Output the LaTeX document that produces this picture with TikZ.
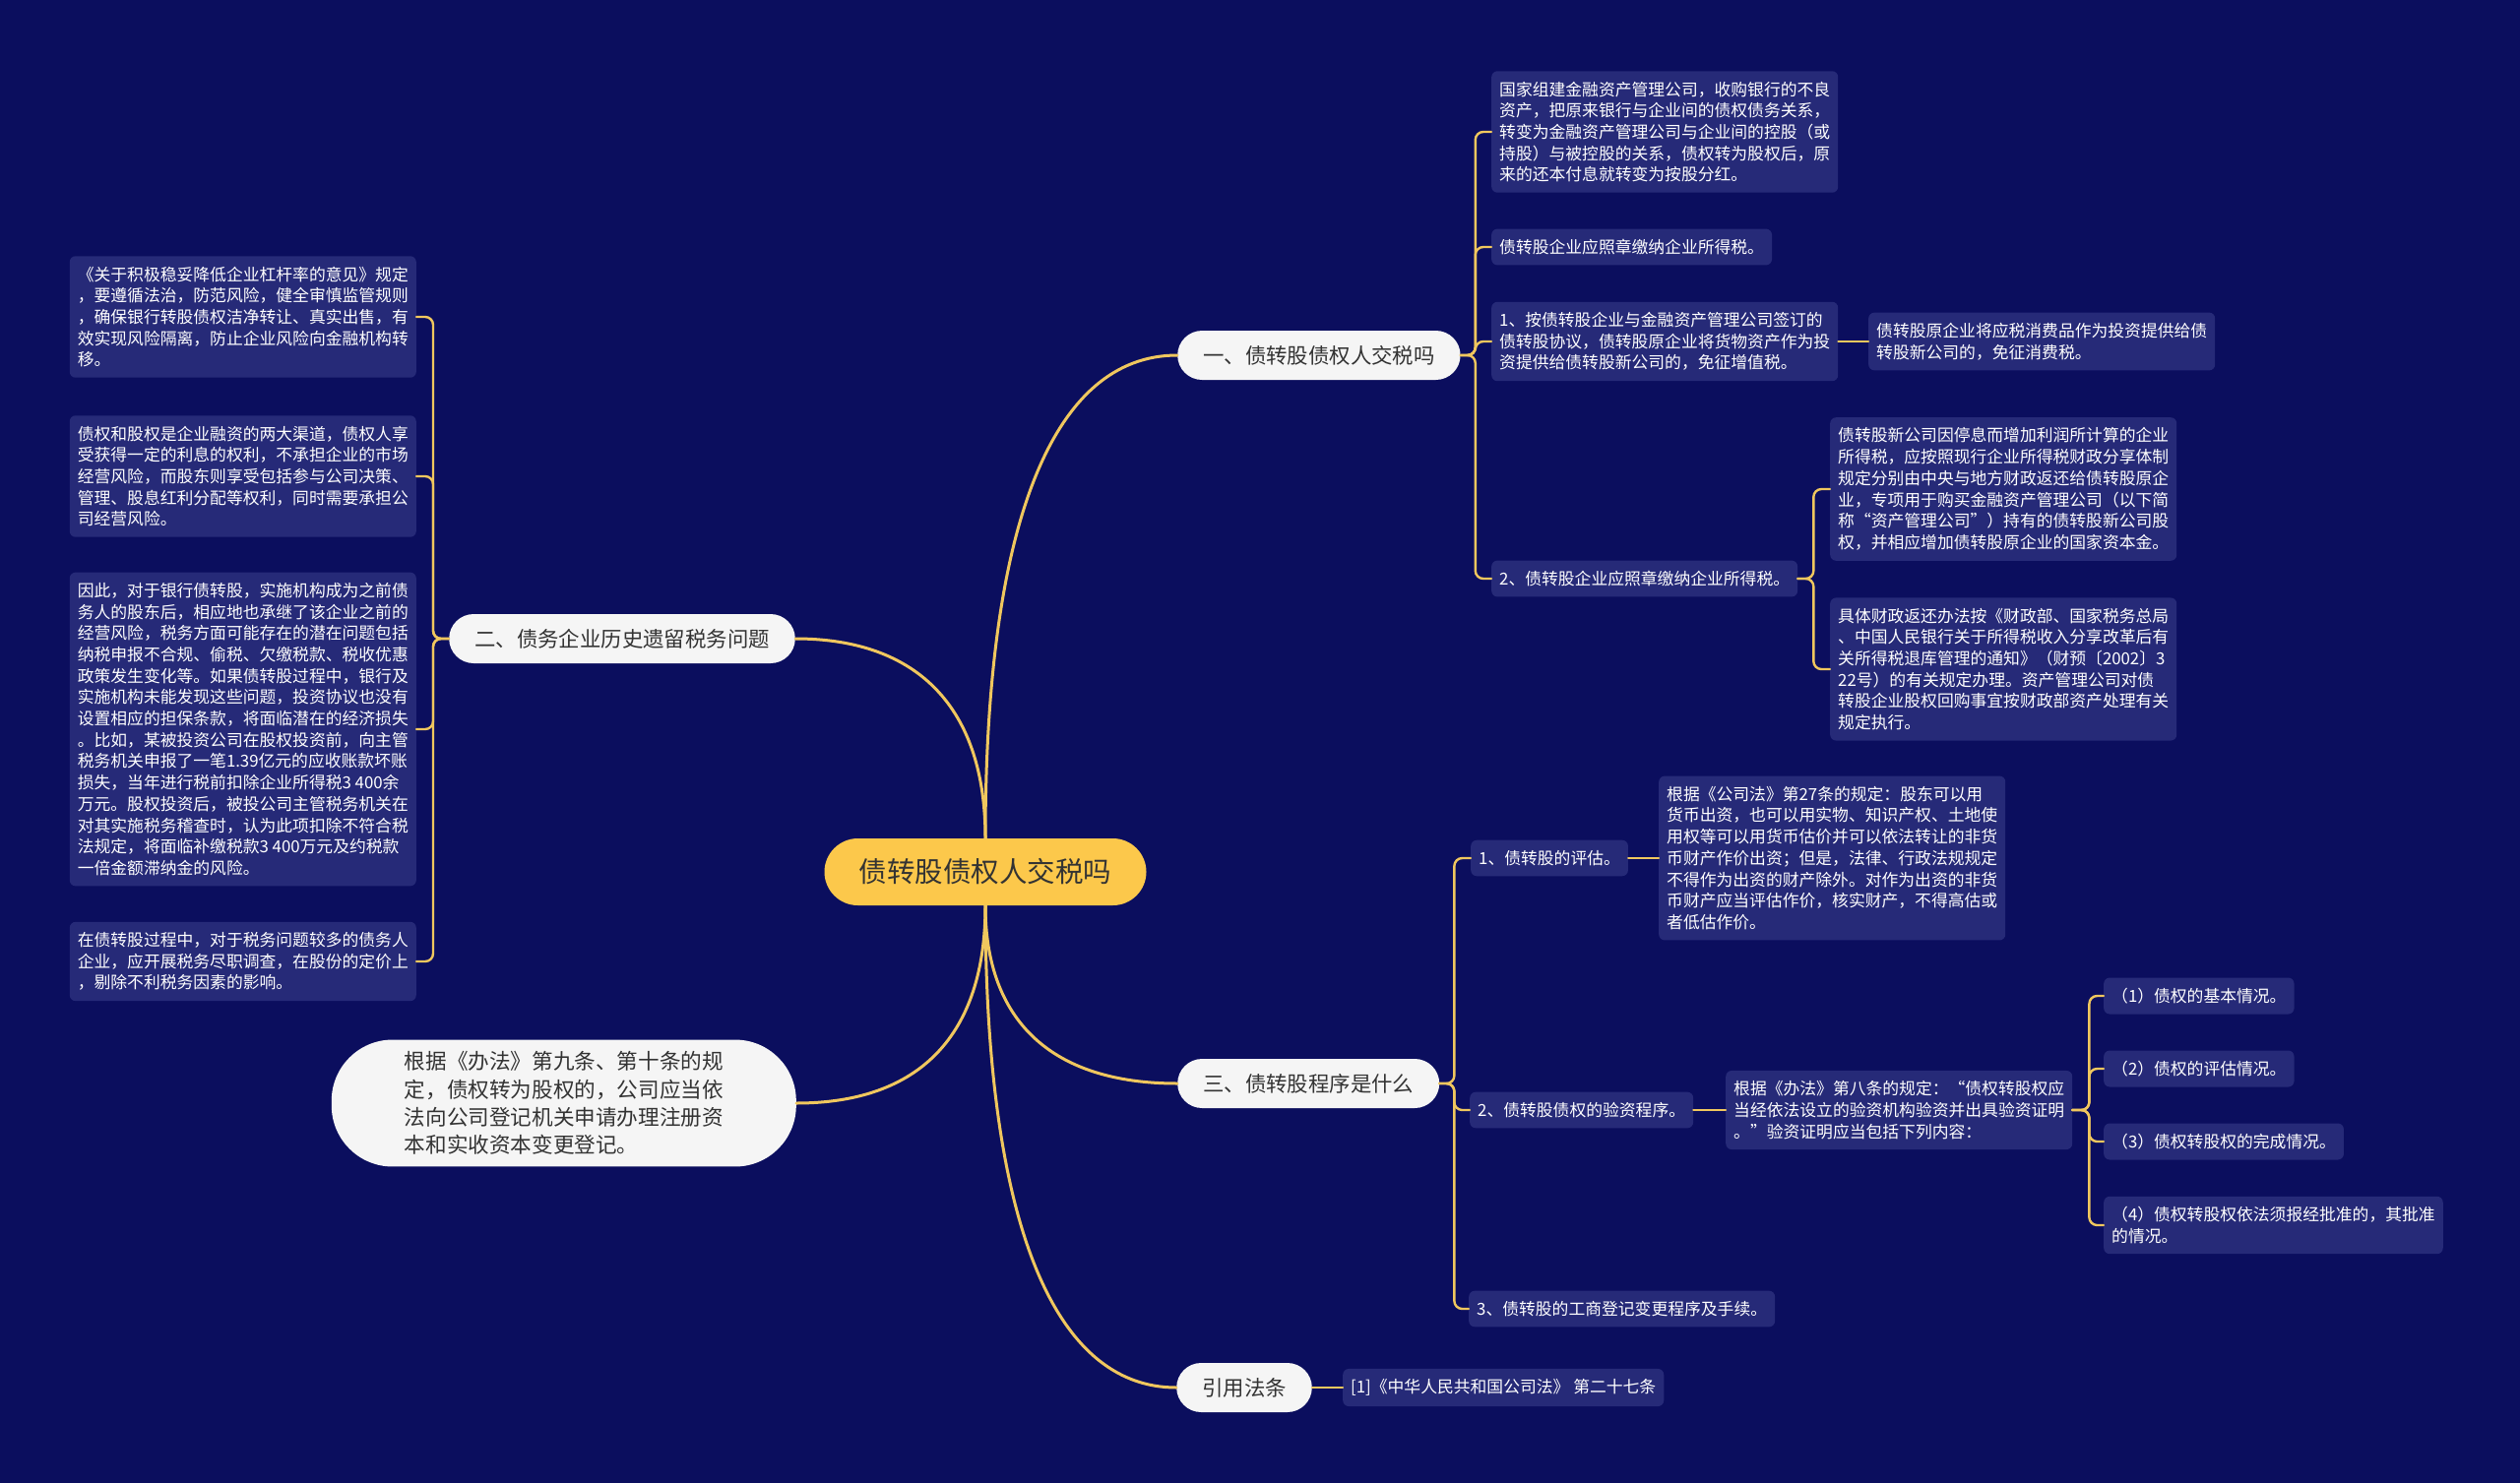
\documentclass[tikz,border=0pt]{standalone}
\usepackage{fontspec}
\newfontfamily\cjk{Noto Sans CJK SC}

\definecolor{bgnavy}{HTML}{0B0E5E}
\definecolor{leafblue}{HTML}{262A78}
\definecolor{linkgold}{HTML}{F0C75E}
\definecolor{rootgold}{HTML}{FCC84B}
\definecolor{pillwhite}{HTML}{F5F5F5}
\definecolor{inkgray}{HTML}{333333}

\tikzset{
  root/.style={fill=rootgold, text=inkgray, rounded corners=34pt,
    minimum width=327pt, minimum height=68pt, inner xsep=0pt,
    font=\cjk\fontsize{28.5}{34}\selectfont},
  branch/.style={fill=pillwhite, text=inkgray, rounded corners=25pt,
    minimum height=50pt, inner xsep=26pt,
    font=\cjk\fontsize{21.4}{26}\selectfont},
  bigpill/.style={fill=pillwhite, text=inkgray, rounded corners=62pt,
    align=left, inner xsep=74pt, inner ysep=12pt,
    font=\cjk\fontsize{21.6}{28.3}\selectfont},
  leaf/.style={fill=leafblue, text=white, rounded corners=6pt,
    align=left, inner xsep=8pt, inner ysep=10.5pt,
    font=\cjk\fontsize{16.8}{21.7}\selectfont},
  mainlink/.style={draw=linkgold, line width=3pt},
  link/.style={draw=linkgold, line width=2.4pt, rounded corners=8pt},
}

\begin{document}
\begin{tikzpicture}[x=1pt, y=-1pt, line cap=round, line join=round]

  %% ════ 底色 ════
  \fill[bgnavy] (0,0) rectangle (2560,1507);

  %% ════ 中心 + 一级分支 ════
  \node[root] (root) at (1001,886) {债转股债权人交税吗};
  \node[branch, anchor=west] (b1) at (1196,361) {一、债转股债权人交税吗};
  \node[branch, anchor=east] (b2) at (808,649) {二、债务企业历史遗留税务问题};
  \node[branch, anchor=west] (b3) at (1196,1101) {三、债转股程序是什么};
  \node[branch, anchor=west] (b4) at (1195,1410) {引用法条};
  \node[bigpill, anchor=east] (b5) at (809,1121) {根据《办法》第九条、第十条的规\\定，债权转为股权的，公司应当依\\法向公司登记机关申请办理注册资\\本和实收资本变更登记。};

  %% ════ 一、右上 ════
  \node[leaf, anchor=west] (l1a) at (1515,134) {国家组建金融资产管理公司，收购银行的不良\\资产，把原来银行与企业间的债权债务关系，\\转变为金融资产管理公司与企业间的控股（或\\持股）与被控股的关系，债权转为股权后，原\\来的还本付息就转变为按股分红。};
  \node[leaf, anchor=west] (l1b) at (1515,251) {债转股企业应照章缴纳企业所得税。};
  \node[leaf, anchor=west] (l1c) at (1515,347) {1、按债转股企业与金融资产管理公司签订的\\债转股协议，债转股原企业将货物资产作为投\\资提供给债转股新公司的，免征增值税。};
  \node[leaf, anchor=west] (l1c1) at (1898,347) {债转股原企业将应税消费品作为投资提供给债\\转股新公司的，免征消费税。};
  \node[leaf, anchor=west] (l1d) at (1515,588) {2、债转股企业应照章缴纳企业所得税。};
  \node[leaf, anchor=west] (l1d1) at (1859,497) {债转股新公司因停息而增加利润所计算的企业\\所得税，应按照现行企业所得税财政分享体制\\规定分别由中央与地方财政返还给债转股原企\\业，专项用于购买金融资产管理公司（以下简\\称“资产管理公司”）持有的债转股新公司股\\权，并相应增加债转股原企业的国家资本金。};
  \node[leaf, anchor=west] (l1d2) at (1859,680) {具体财政返还办法按《财政部、国家税务总局\\、中国人民银行关于所得税收入分享改革后有\\关所得税退库管理的通知》（财预〔2002〕3\\22号）的有关规定办理。资产管理公司对债\\转股企业股权回购事宜按财政部资产处理有关\\规定执行。};

  %% ════ 二、左侧 ════
  \node[leaf, anchor=east] (ll1) at (423,322) {《关于积极稳妥降低企业杠杆率的意见》规定\\，要遵循法治，防范风险，健全审慎监管规则\\，确保银行转股债权洁净转让、真实出售，有\\效实现风险隔离，防止企业风险向金融机构转\\移。};
  \node[leaf, anchor=east] (ll2) at (423,484) {债权和股权是企业融资的两大渠道，债权人享\\受获得一定的利息的权利，不承担企业的市场\\经营风险，而股东则享受包括参与公司决策、\\管理、股息红利分配等权利，同时需要承担公\\司经营风险。};
  \node[leaf, anchor=east] (ll3) at (423,741) {因此，对于银行债转股，实施机构成为之前债\\务人的股东后，相应地也承继了该企业之前的\\经营风险，税务方面可能存在的潜在问题包括\\纳税申报不合规、偷税、欠缴税款、税收优惠\\政策发生变化等。如果债转股过程中，银行及\\实施机构未能发现这些问题，投资协议也没有\\设置相应的担保条款，将面临潜在的经济损失\\。比如，某被投资公司在股权投资前，向主管\\税务机关申报了一笔1.39亿元的应收账款坏账\\损失，当年进行税前扣除企业所得税3 400余\\万元。股权投资后，被投公司主管税务机关在\\对其实施税务稽查时，认为此项扣除不符合税\\法规定，将面临补缴税款3 400万元及约税款\\一倍金额滞纳金的风险。};
  \node[leaf, anchor=east] (ll4) at (423,977) {在债转股过程中，对于税务问题较多的债务人\\企业，应开展税务尽职调查，在股份的定价上\\，剔除不利税务因素的影响。};

  %% ════ 三、右下 ════
  \node[leaf, anchor=west] (l3a) at (1494,872) {1、债转股的评估。};
  \node[leaf, anchor=west] (l3a1) at (1685,872) {根据《公司法》第27条的规定：股东可以用\\货币出资，也可以用实物、知识产权、土地使\\用权等可以用货币估价并可以依法转让的非货\\币财产作价出资；但是，法律、行政法规规定\\不得作为出资的财产除外。对作为出资的非货\\币财产应当评估作价，核实财产，不得高估或\\者低估作价。};
  \node[leaf, anchor=west] (l3b) at (1493,1128) {2、债转股债权的验资程序。};
  \node[leaf, anchor=west] (l3b1) at (1753,1128) {根据《办法》第八条的规定：“债权转股权应\\当经依法设立的验资机构验资并出具验资证明\\。”验资证明应当包括下列内容：};
  \node[leaf, anchor=west] (l3b1a) at (2137,1012) {（1）债权的基本情况。};
  \node[leaf, anchor=west] (l3b1b) at (2137,1086) {（2）债权的评估情况。};
  \node[leaf, anchor=west] (l3b1c) at (2137,1160) {（3）债权转股权的完成情况。};
  \node[leaf, anchor=west] (l3b1d) at (2137,1245) {（4）债权转股权依法须报经批准的，其批准\\的情况。};
  \node[leaf, anchor=west] (l3c) at (1492,1330) {3、债转股的工商登记变更程序及手续。};

  %% ════ 引用法条 ════
  \node[leaf, anchor=west] (l4a) at (1364,1410) {[1]《中华人民共和国公司法》 第二十七条};

  %% ════ 连线 ════
  \draw[mainlink] (root.north) .. controls +(0,-319) and +(-127,0) .. (b1.west);
  \draw[mainlink] (root.north) .. controls +(0,-132) and +(125,0) .. (b2.east);
  \draw[mainlink] (root.south) .. controls +(0,118) and +(-127,0) .. (b3.west);
  \draw[mainlink] (root.south) .. controls +(0,319) and +(-126,0) .. (b4.west);
  \draw[mainlink] (root.south) .. controls +(0,131) and +(126,0) .. (b5.east);

  \foreach \c in {l1a,l1b,l1c,l1d}
    \draw[link] (b1.east) -- ++(15,0) |- (\c.west);
  \draw[link] (l1c.east) -- (l1c1.west);
  \foreach \c in {l1d1,l1d2}
    \draw[link] (l1d.east) -- ++(16,0) |- (\c.west);
  \foreach \c in {ll1,ll2,ll3,ll4}
    \draw[link] (b2.west) -- ++(-16,0) |- (\c.east);
  \foreach \c in {l3a,l3b,l3c}
    \draw[link] (b3.east) -- ++(15,0) |- (\c.west);
  \draw[link] (l3a.east) -- (l3a1.west);
  \draw[link] (l3b.east) -- (l3b1.west);
  \foreach \c in {l3b1a,l3b1b,l3b1c,l3b1d}
    \draw[link] (l3b1.east) -- ++(17,0) |- (\c.west);
  \draw[link] (b4.east) -- (l4a.west);

  % 钉死画布
  \pgfresetboundingbox
  \path[use as bounding box] (0,0) rectangle (2560,1507);
\end{tikzpicture}
\end{document}
